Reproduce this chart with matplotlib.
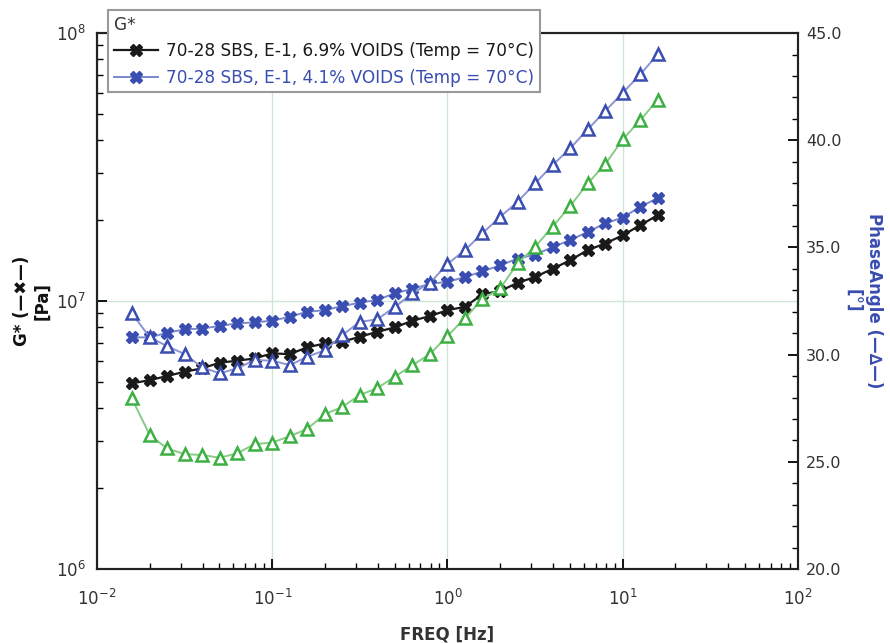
import matplotlib.pyplot as plt
import numpy as np
from matplotlib.ticker import MultipleLocator, FormatStrFormatter

freq = [0.0158, 0.02, 0.0251, 0.0316, 0.0398, 0.0501, 0.0631, 0.0794,
        0.1, 0.126, 0.158, 0.2, 0.251, 0.316, 0.398, 0.501, 0.631, 0.794,
        1.0, 1.26, 1.58, 2.0, 2.51, 3.16, 3.98, 5.01, 6.31, 7.94,
        10.0, 12.6, 15.8]

# G* [Pa]
g_69 = [4.93e6, 5.07e6, 5.25e6, 5.45e6, 5.61e6, 5.89e6, 5.99e6, 6.11e6,
        6.38e6, 6.34e6, 6.72e6, 6.95e6, 7.05e6, 7.36e6, 7.68e6, 7.98e6,
        8.45e6, 8.79e6, 9.25e6, 9.52e6, 1.06e7, 1.09e7, 1.17e7, 1.23e7,
        1.32e7, 1.42e7, 1.55e7, 1.64e7, 1.76e7, 1.92e7, 2.09e7]
g_41 = [7.32e6, 7.32e6, 7.62e6, 7.84e6, 7.9e6, 8.07e6, 8.26e6, 8.33e6,
        8.45e6, 8.74e6, 9.12e6, 9.25e6, 9.58e6, 9.86e6, 1.01e7, 1.07e7,
        1.11e7, 1.16e7, 1.18e7, 1.23e7, 1.29e7, 1.36e7, 1.44e7, 1.49e7,
        1.59e7, 1.69e7, 1.81e7, 1.95e7, 2.05e7, 2.25e7, 2.42e7]

# phase angle [deg]
ph_69 = [27.96, 26.25, 25.63, 25.36, 25.32, 25.19, 25.40, 25.83, 25.90,
         26.20, 26.53, 27.23, 27.56, 28.12, 28.44, 28.98, 29.51, 30.03,
         30.87, 31.71, 32.58, 33.09, 34.26, 35.03, 35.97, 36.93, 37.99,
         38.88, 40.04, 40.94, 41.88]
ph_41 = [31.93, 30.81, 30.40, 30.03, 29.41, 29.13, 29.36, 29.75, 29.72,
         29.51, 29.90, 30.21, 30.91, 31.53, 31.65, 32.23, 32.86, 33.35,
         34.23, 34.88, 35.66, 36.43, 37.13, 37.99, 38.84, 39.62, 40.51,
         41.36, 42.22, 43.07, 44.01]

plt.rcParams['mathtext.fontset'] = 'dejavuserif'
txt = '#333333'
blue = '#3a4db0'
green = '#3cb043'

fig = plt.figure(figsize=(8.9, 6.43), dpi=100)
ax = fig.add_axes([0.109, 0.115, 0.7876, 0.8335])
ax2 = ax.twinx()

l1, = ax.plot(freq, g_69, '-', color='#1a1a1a', lw=1.6, marker='X', ms=9,
              mfc='#1a1a1a', mec='#1a1a1a', zorder=3,
              label='70-28 SBS, E-1, 6.9% VOIDS (Temp = 70°C)')
l2, = ax.plot(freq, g_41, '-', color='#7c86cc', lw=1.4, marker='X', ms=9,
              mfc=blue, mec=blue, zorder=3,
              label='70-28 SBS, E-1, 4.1% VOIDS (Temp = 70°C)')
ax2.plot(freq, ph_69, '-', color='#86cc86', lw=1.4, marker='^', ms=9,
         mfc='white', mec=green, mew=1.8)
ax2.plot(freq, ph_41, '-', color='#8c94d4', lw=1.4, marker='^', ms=9,
         mfc='white', mec=blue, mew=1.8)

ax.set_xscale('log')
ax.set_yscale('log')
ax.set_xlim(1e-2, 1e2)
ax.set_ylim(1e6, 1e8)
ax2.set_ylim(20, 45)
ax2.yaxis.set_major_locator(MultipleLocator(5))
ax2.yaxis.set_minor_locator(MultipleLocator(1))
ax2.yaxis.set_major_formatter(FormatStrFormatter('%.1f'))

ax.grid(True, which='major', color='#cfe6d6', lw=1.0)
ax.set_axisbelow(True)

for a in (ax, ax2):
    for s in a.spines.values():
        s.set_linewidth(1.5)
        s.set_color('#222222')
ax.tick_params(which='both', direction='in', top=False, labelsize=12,
               labelcolor=txt)
ax.tick_params(axis='x', pad=14)
ax.tick_params(axis='y', pad=8)
ax.tick_params(which='major', length=7, width=1.3)
ax.tick_params(which='minor', length=4, width=1.0)
ax2.tick_params(which='both', direction='in', labelsize=11.5,
                labelcolor=txt, pad=6)
ax2.tick_params(which='major', length=7, width=1.3)
ax2.tick_params(which='minor', length=4, width=1.0)

ax.set_xlabel('FREQ [Hz]', fontsize=12, fontweight='bold', color=txt,
              labelpad=12)
fig.text(0.036, 0.532, 'G* (—✖—)\n[Pa]', fontsize=12, fontweight='bold',
         color='#111111', rotation=90, ha='center', va='center',
         multialignment='center')
fig.text(0.970, 0.532, 'PhaseAngle (—∆—)\n[°]', fontsize=12,
         fontweight='bold', color=blue, rotation=-90, ha='center',
         va='center', multialignment='center')

leg = ax2.legend(handles=[l1, l2], title='G*', loc='upper left',
                 bbox_to_anchor=(0.121, 0.985), bbox_transform=fig.transFigure,
                 fontsize=12.2, title_fontsize=12.2, fancybox=False,
                 framealpha=1, edgecolor='#999999', borderaxespad=0,
                 handlelength=2.6, handletextpad=0.5, borderpad=0.35,
                 labelspacing=0.5)
leg.get_frame().set_linewidth(1.5)
leg._legend_box.align = 'left'
leg.get_title().set_color(txt)
leg.get_texts()[0].set_color('#1a1a1a')
leg.get_texts()[1].set_color(blue)

fig.savefig('out.png', dpi=100)
